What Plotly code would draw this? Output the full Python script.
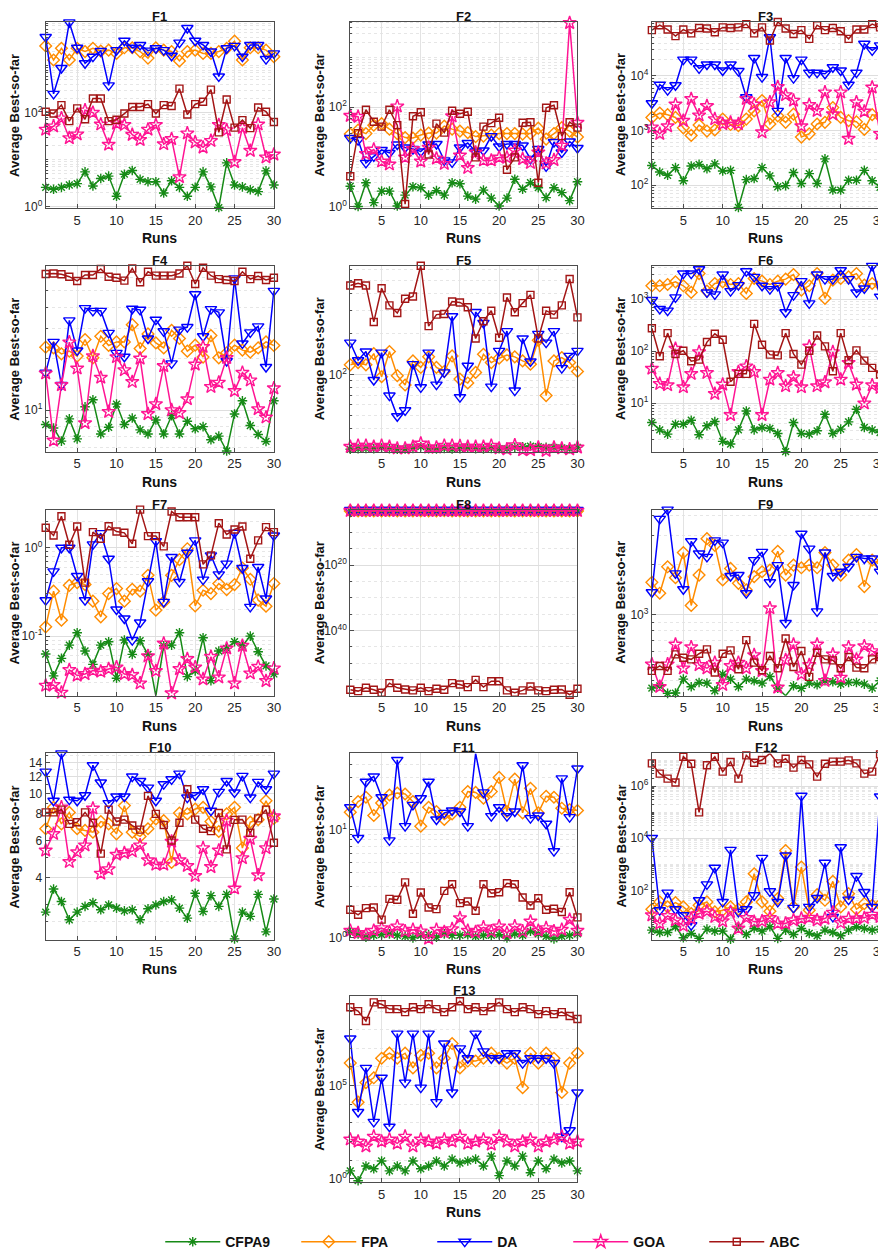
import numpy as np
import plotly.graph_objects as go

W, H = 886, 1257
runs = list(range(1, 31))
algos = ["CFPA9", "FPA", "DA", "GOA", "ABC"]

# values below are log10 of the average best-so-far
# (F8 is negative everywhere, so there the lists hold log10 of minus the value)
f1_cfpa9 = [0.41,0.37,0.41,0.46,0.49,0.74,0.44,0.60,0.65,0.22,0.69,0.77,0.58,0.53,0.53,0.29,0.55,0.41,0.22,0.41,0.74,0.42,-0.02,0.93,0.46,0.42,0.36,0.32,0.76,0.46]
f1_fpa = [3.42,3.12,3.37,3.12,3.37,3.30,3.37,3.31,3.33,3.26,3.38,3.38,3.30,3.16,3.38,3.33,3.30,3.10,3.30,3.33,3.26,3.26,3.30,3.37,3.52,3.12,3.38,3.38,3.33,3.19]
f1_da = [3.61,2.40,2.95,3.92,3.38,3.05,3.19,3.31,2.58,3.33,3.53,3.38,3.44,3.32,3.37,3.33,3.21,3.49,3.80,3.53,3.44,3.30,2.77,3.37,3.42,3.19,3.44,3.44,3.14,3.26]
f1_goa = [1.64,1.71,1.88,1.46,1.54,2.05,2.00,1.75,1.32,1.77,1.74,1.53,1.42,1.64,1.74,1.33,1.44,0.63,1.56,1.37,1.26,1.40,1.74,1.63,0.95,1.68,1.19,1.75,1.05,1.11]
f1_abc = [2.02,1.98,2.16,1.82,2.09,1.86,2.30,2.30,1.82,1.85,1.98,2.12,2.12,2.18,1.98,2.16,2.14,2.51,1.96,2.18,2.23,2.49,1.58,2.28,1.68,1.84,1.67,2.11,2.02,1.80]

f2_cfpa9 = [0.41,0.00,0.48,0.08,0.31,0.31,0.01,0.23,0.40,0.38,0.23,0.32,0.23,0.48,0.46,0.21,0.15,0.33,0.17,0.01,0.17,0.55,0.35,0.48,0.38,0.18,0.38,0.28,0.12,0.50]
f2_fpa = [1.46,1.54,1.47,1.64,1.67,1.56,1.47,1.39,1.38,1.44,1.48,1.48,1.62,1.56,1.52,1.49,1.41,1.42,1.44,1.47,1.47,1.47,1.46,1.47,1.58,1.36,1.47,1.59,1.52,1.40]
f2_da = [1.38,1.34,0.88,1.01,1.14,1.08,1.25,1.19,1.16,1.11,1.25,1.26,0.93,0.89,1.19,1.28,1.11,1.13,1.42,1.21,1.26,1.26,1.23,0.96,1.16,0.81,1.30,1.09,1.31,1.18]
f2_goa = [1.83,1.81,1.06,1.15,0.91,0.85,2.02,0.99,1.16,0.91,1.19,0.97,0.86,1.82,1.03,0.78,1.09,0.93,0.93,0.99,0.99,1.13,0.96,0.88,1.09,0.87,0.94,1.23,3.70,1.69]
f2_abc = [0.61,1.48,1.95,1.71,1.61,1.95,1.64,0.05,1.82,1.90,1.05,1.67,1.49,1.93,1.87,1.91,0.99,1.61,1.68,1.79,0.74,0.99,1.69,1.70,0.48,1.99,2.04,1.42,1.70,1.59]

f3_cfpa9 = [2.36,2.24,2.18,2.32,2.08,2.35,2.38,2.30,2.39,2.26,2.27,1.59,2.10,2.12,2.32,2.17,1.97,1.99,2.23,2.03,2.21,2.03,2.48,1.91,1.91,2.09,2.09,2.27,2.08,1.96]
f3_fpa = [3.24,3.32,3.29,3.24,3.05,2.91,3.10,2.99,3.01,3.21,3.11,3.09,3.21,3.36,3.55,3.12,3.27,3.15,3.30,2.88,2.94,3.12,3.15,3.42,3.24,3.18,3.16,3.02,3.29,3.26]
f3_da = [3.50,3.84,3.74,3.83,4.30,4.30,4.14,4.21,4.21,4.10,4.21,4.09,3.61,4.33,3.98,4.71,3.36,4.33,3.96,4.30,4.06,4.06,4.04,4.16,4.10,3.84,4.06,4.59,4.47,4.56]
f3_goa = [3.06,2.94,3.08,3.48,3.18,3.58,3.28,3.45,3.21,3.12,3.15,3.12,3.58,3.48,2.97,3.52,3.80,3.65,3.55,3.08,3.47,3.36,3.70,3.30,3.70,2.85,3.52,3.35,3.79,2.94]
f3_abc = [4.84,4.93,4.85,4.73,4.85,4.78,4.88,4.87,4.80,4.89,4.88,4.89,4.95,4.78,4.89,4.65,4.99,4.87,4.77,4.84,4.68,4.93,4.84,4.88,4.82,4.68,4.85,4.85,4.95,4.89]

f4_cfpa9 = [0.915,0.895,0.818,0.948,0.831,1.019,1.060,0.860,0.899,1.035,0.915,0.953,0.884,0.860,0.942,0.860,0.967,0.860,0.934,0.890,0.903,0.826,0.847,0.760,0.977,1.054,0.909,0.857,0.816,1.054]
f4_fpa = [1.368,1.364,1.329,1.345,1.316,1.413,1.306,1.432,1.378,1.399,1.399,1.500,1.360,1.446,1.393,1.364,1.467,1.419,1.345,1.380,1.310,1.436,1.306,1.335,1.380,1.351,1.339,1.364,1.399,1.378]
f4_da = [1.219,1.399,1.147,1.525,1.349,1.597,1.581,1.581,1.452,1.335,1.312,1.593,1.587,1.419,1.529,1.461,1.273,1.471,1.486,1.678,1.432,1.591,1.572,1.287,1.771,1.390,1.455,1.490,1.252,1.698]
f4_goa = [1.215,0.822,1.147,1.397,1.244,0.924,1.316,1.190,0.990,1.310,1.234,1.165,1.302,0.977,1.035,1.258,1.000,0.983,1.064,1.267,1.370,1.136,1.161,1.306,1.112,1.219,1.174,1.006,0.957,1.128]
f4_abc = [1.797,1.800,1.795,1.781,1.756,1.791,1.791,1.826,1.781,1.775,1.758,1.829,1.748,1.810,1.787,1.787,1.787,1.800,1.845,1.738,1.833,1.787,1.767,1.762,1.756,1.810,1.767,1.785,1.762,1.775]

f5_cfpa9 = [1.449,1.454,1.456,1.454,1.459,1.454,1.449,1.451,1.456,1.468,1.454,1.451,1.456,1.451,1.454,1.459,1.454,1.451,1.456,1.454,1.454,1.463,1.468,1.473,1.468,1.463,1.463,1.459,1.454,1.463]
f5_fpa = [2.073,2.090,2.073,2.156,1.985,2.171,1.993,1.924,2.102,2.054,2.132,2.054,2.024,2.139,1.968,1.939,2.017,2.151,2.090,2.122,2.146,2.132,2.102,2.078,2.254,1.846,2.102,2.127,2.090,2.024]
f5_da = [2.237,2.107,2.171,1.961,2.163,1.846,1.693,1.737,2.078,1.907,2.163,1.927,2.017,2.432,1.834,2.066,2.463,2.383,1.912,2.176,2.322,1.883,2.268,2.098,2.302,2.237,2.322,2.049,2.139,2.176]
f5_goa = [1.468,1.476,1.476,1.468,1.476,1.468,1.456,1.456,1.468,1.493,1.463,1.463,1.476,1.476,1.473,1.468,1.468,1.468,1.476,1.456,1.449,1.480,1.444,1.444,1.463,1.439,1.463,1.456,1.449,1.463]
f5_abc = [2.659,2.676,2.659,2.390,2.639,2.512,2.456,2.561,2.578,2.805,2.359,2.444,2.449,2.541,2.534,2.498,2.268,2.395,2.473,2.273,2.571,2.461,2.529,2.590,2.268,2.473,2.444,2.512,2.707,2.424]

f6_cfpa9 = [0.624,0.484,0.401,0.592,0.592,0.669,0.389,0.561,0.643,0.261,0.210,0.484,0.847,0.484,0.529,0.510,0.414,0.064,0.624,0.414,0.401,0.465,0.783,0.414,0.497,0.637,0.879,0.529,0.484,0.433]
f6_fpa = [3.255,3.255,3.280,3.331,3.255,3.127,3.490,3.153,3.299,3.331,3.280,3.299,3.108,3.395,3.344,3.280,3.344,3.382,3.471,3.172,3.255,3.490,3.013,3.363,3.395,3.427,3.490,3.268,3.299,3.268]
f6_da = [2.981,2.809,2.777,3.032,3.490,3.490,3.573,3.127,3.089,3.471,3.153,3.268,3.535,3.427,3.255,3.191,3.255,2.745,3.076,3.344,2.917,3.471,3.382,3.382,3.554,3.382,3.127,3.204,3.637,3.045]
f6_goa = [1.662,1.369,1.344,2.045,1.306,1.561,1.981,1.580,1.178,1.357,0.771,1.599,1.707,1.599,0.771,1.452,1.580,1.325,1.497,1.306,2.089,1.325,1.401,1.981,1.452,1.771,1.357,0.994,1.344,1.293]
f6_abc = [2.439,1.898,2.344,1.943,2.006,1.803,1.834,2.172,2.331,2.217,1.408,1.561,1.561,2.522,2.121,1.930,1.917,2.344,1.943,1.739,2.006,2.299,2.089,1.611,2.344,1.822,2.013,1.815,1.675,1.548]

f7_cfpa9 = [-1.203,-1.451,-1.252,-1.102,-0.962,-1.169,-1.320,-1.102,-1.064,-1.477,-1.045,-1.207,-1.053,-1.207,-1.677,-1.109,-1.102,-0.962,-1.459,-1.395,-1.019,-1.504,-1.169,-1.139,-1.064,-1.109,-1.000,-1.177,-1.338,-1.429]
f7_fpa = [-0.895,-0.492,-0.820,-0.425,-0.395,-0.417,-0.605,-0.782,-0.519,-0.462,-0.605,-0.470,-0.492,-0.312,-0.707,-0.613,-0.312,-0.135,-0.011,-0.658,-0.481,-0.519,-0.406,-0.474,-0.417,-0.229,-0.357,-0.594,-0.662,-0.406]
f7_da = [-0.594,-0.267,0.000,0.000,-0.320,-0.594,0.038,0.165,-0.124,-0.699,-0.801,-1.045,-0.846,-0.380,0.075,-0.613,-0.105,-0.387,-0.056,0.083,-0.361,-0.086,-0.301,-0.180,0.169,-0.229,-0.669,-0.218,-0.575,0.139]
f7_goa = [-1.560,-1.553,-1.639,-1.383,-1.447,-1.429,-1.391,-1.402,-1.372,-1.353,-1.429,-1.440,-1.534,-1.226,-1.395,-1.083,-1.647,-1.372,-1.259,-1.353,-1.489,-1.233,-1.466,-1.139,-1.534,-1.109,-1.421,-1.346,-1.508,-1.365]
f7_abc = [0.226,0.139,0.357,0.034,0.241,-0.395,0.177,0.102,0.244,0.184,0.169,0.045,0.432,0.132,0.132,0.015,0.410,0.346,0.346,0.346,-0.188,-0.086,0.278,0.150,0.207,0.241,-0.124,0.083,0.233,0.177]

f8_cfpa9 = [3.42,3.45,3.40,3.44,3.43,3.41,3.46,3.42,3.44,3.40,3.43,3.45,3.41,3.42,3.44,3.43,3.40,3.46,3.42,3.41,3.44,3.43,3.45,3.42,3.40,3.44,3.41,3.43,3.45,3.42]
f8_fpa = [3.35,3.32,3.36,3.33,3.35,3.31,3.34,3.36,3.32,3.35,3.33,3.34,3.31,3.36,3.33,3.35,3.32,3.34,3.36,3.33,3.31,3.35,3.34,3.32,3.36,3.33,3.35,3.34,3.32,3.35]
f8_da = [3.05,3.06,3.04,3.05,3.07,3.05,3.04,3.06,3.05,3.05,3.06,3.04,3.05,3.07,3.05,3.04,3.06,3.05,3.05,3.06,3.04,3.05,3.07,3.05,3.04,3.06,3.05,3.05,3.06,3.04]
f8_goa = [3.30,3.28,3.31,3.29,3.30,3.32,3.28,3.30,3.31,3.29,3.30,3.28,3.31,3.30,3.29,3.32,3.30,3.28,3.31,3.29,3.30,3.31,3.28,3.30,3.29,3.31,3.30,3.28,3.30,3.29]
f8_abc = [58.18,58.59,57.58,58.18,59.09,56.16,57.58,58.08,58.38,57.58,58.59,57.88,58.18,56.16,56.57,57.37,55.15,57.37,55.56,55.56,58.38,59.09,58.38,57.17,58.38,58.59,58.18,58.08,59.70,57.88]

f9_cfpa9 = [2.556,2.570,2.524,2.526,2.610,2.564,2.590,2.586,2.540,2.640,2.610,2.564,2.610,2.600,2.586,2.626,2.556,2.510,2.570,2.554,2.586,2.576,2.600,2.594,2.580,2.590,2.590,2.580,2.556,2.600]
f9_fpa = [3.196,3.130,3.290,3.224,3.376,3.056,3.240,3.460,3.420,3.210,3.280,3.190,3.150,3.230,3.260,3.270,3.384,3.240,3.300,3.284,3.300,3.284,3.376,3.300,3.240,3.330,3.364,3.170,3.330,3.304]
f9_da = [3.136,3.580,3.636,3.250,3.154,3.444,3.370,3.350,3.450,3.436,3.234,3.240,3.130,3.330,3.380,3.196,3.300,2.950,3.180,3.490,3.400,3.020,3.376,3.234,3.260,3.290,3.350,3.340,3.340,3.260]
f9_goa = [2.700,2.564,2.700,2.820,2.676,2.804,2.696,2.676,2.710,2.576,2.690,2.710,2.676,2.756,2.660,3.040,2.560,2.726,2.820,2.640,2.696,2.820,2.600,2.760,2.620,2.804,2.730,2.810,2.780,2.760]
f9_abc = [2.660,2.690,2.660,2.760,2.740,2.730,2.764,2.790,2.650,2.764,2.784,2.670,2.846,2.710,2.664,2.750,2.676,2.856,2.684,2.780,2.624,2.770,2.730,2.724,2.676,2.744,2.680,2.676,2.730,2.744]

f10_cfpa9 = [0.440,0.549,0.490,0.404,0.440,0.467,0.485,0.451,0.474,0.459,0.446,0.451,0.404,0.456,0.474,0.490,0.498,0.459,0.412,0.529,0.443,0.518,0.467,0.524,0.314,0.440,0.420,0.524,0.347,0.502]
f10_fpa = [0.833,0.934,0.856,0.910,0.833,0.825,0.817,0.867,0.856,0.809,0.942,0.817,0.797,0.833,0.879,0.871,0.674,0.907,0.903,0.926,0.934,0.867,0.820,0.903,0.934,0.742,0.864,0.876,0.965,0.882]
f10_da = [1.102,0.965,1.188,0.970,0.965,0.991,1.132,1.051,0.954,0.985,0.985,1.079,1.058,1.027,0.965,1.043,1.066,1.093,0.980,0.991,1.019,0.918,1.007,1.058,1.004,1.082,0.980,1.054,1.019,1.093]
f10_goa = [0.731,0.809,0.934,0.677,0.723,0.755,0.929,0.622,0.643,0.711,0.719,0.727,0.755,0.685,0.664,0.664,0.773,0.685,0.658,0.611,0.742,0.653,0.731,0.871,0.552,0.695,0.786,0.614,0.742,0.892]
f10_abc = [0.910,0.910,0.923,0.856,0.864,0.910,0.861,0.716,0.923,0.867,0.876,0.848,0.829,0.988,0.903,0.851,0.778,0.861,1.019,0.876,0.833,0.822,0.907,0.736,0.875,0.876,0.814,0.882,0.923,0.767]

f11_cfpa9 = [0.052,0.037,0.006,0.024,0.030,0.037,0.024,0.015,0.000,0.024,0.030,0.006,0.037,0.024,0.024,0.030,0.015,0.024,0.024,0.030,0.000,0.037,0.024,0.061,0.037,0.015,-0.009,0.015,0.024,0.037]
f11_fpa = [1.159,1.256,1.296,1.128,1.244,1.317,1.335,1.326,1.256,1.030,1.204,1.165,1.091,1.143,1.204,1.348,1.341,1.287,1.348,1.479,1.165,1.463,1.152,1.378,1.152,1.305,1.296,1.195,1.183,1.174]
f11_da = [1.204,0.921,1.439,1.488,1.296,0.899,1.640,1.030,1.226,1.287,1.439,1.091,1.152,1.174,1.165,1.030,1.701,1.341,1.122,1.204,1.122,1.165,1.591,1.104,1.128,1.052,0.799,1.470,1.113,1.561]
f11_goa = [0.067,0.046,0.030,0.067,0.091,0.055,0.107,0.061,0.076,0.061,-0.006,0.076,0.055,0.082,0.183,0.067,0.055,0.098,0.061,0.107,0.046,0.107,0.061,0.152,0.067,0.091,0.061,0.076,0.168,0.067]
f11_abc = [0.259,0.213,0.274,0.280,0.168,0.360,0.351,0.512,0.223,0.418,0.280,0.265,0.433,0.494,0.320,0.335,0.250,0.494,0.412,0.421,0.503,0.494,0.372,0.299,0.366,0.259,0.268,0.238,0.421,0.189]

f12_cfpa9 = [0.471,0.382,0.382,0.599,0.178,0.344,0.153,0.510,0.433,0.433,0.127,0.599,0.306,0.535,0.433,0.599,0.153,0.471,0.306,0.535,0.344,0.255,0.471,0.382,0.255,0.471,0.599,0.535,0.471,0.510]
f12_fpa = [1.274,1.554,1.363,1.529,1.363,1.108,1.427,1.554,1.172,1.236,1.363,1.274,1.554,2.637,1.554,1.197,1.682,3.529,1.363,2.892,1.236,1.834,1.618,2.344,1.363,1.873,1.274,1.491,1.427,1.452]
f12_da = [4.013,1.236,1.911,1.274,1.045,0.662,1.618,2.229,2.866,1.554,3.554,1.172,1.274,1.809,3.248,1.962,1.554,3.338,1.325,5.631,1.363,1.707,3.057,0.981,3.656,1.643,2.548,1.936,1.363,5.605]
f12_goa = [1.045,0.726,1.019,0.854,0.637,0.917,1.108,1.197,0.981,0.815,1.172,0.535,0.943,0.790,0.815,0.943,0.726,0.726,0.854,0.917,0.955,0.854,0.917,1.146,0.752,0.917,0.917,0.943,1.070,0.981]
f12_abc = [6.879,6.484,6.293,6.140,7.134,6.866,4.994,6.803,7.134,6.561,6.930,6.293,7.185,6.904,7.006,7.261,6.879,7.057,6.713,7.006,6.841,6.369,6.866,6.943,6.943,6.994,6.879,6.484,6.561,7.223]

f13_cfpa9 = [0.42,-0.11,0.68,0.53,0.95,0.42,0.68,0.42,0.95,0.53,0.68,0.95,0.68,1.05,0.84,0.95,1.05,0.68,1.21,0.16,0.95,0.68,1.21,0.32,0.95,0.53,1.05,0.84,0.95,0.42]
f13_fpa = [6.21,4.11,5.16,5.42,6.47,6.74,6.47,6.74,5.95,6.63,6.74,5.95,6.47,7.26,5.95,6.32,6.32,6.47,6.74,6.47,6.21,6.47,4.89,6.74,6.21,6.74,6.47,4.63,6.21,6.74]
f13_da = [7.53,3.58,5.95,3.05,5.42,2.79,7.79,5.16,7.79,4.89,7.79,4.11,7.26,4.63,7.00,6.47,7.79,6.84,6.47,6.47,6.74,6.74,6.21,6.47,6.47,6.47,6.21,2.26,2.60,4.63]
f13_goa = [2.11,2.00,1.74,2.26,2.00,2.11,1.89,2.26,1.74,2.11,2.00,1.89,2.11,2.00,2.26,1.89,2.00,2.11,1.84,2.26,2.00,1.74,2.00,2.11,1.74,2.00,2.11,2.26,1.89,2.00]
f13_abc = [9.21,9.00,8.47,9.47,9.37,9.11,9.11,8.95,9.21,9.11,9.37,9.11,8.95,9.21,9.53,9.11,9.21,9.00,9.21,9.47,9.11,8.95,9.21,9.11,8.84,9.00,8.84,8.95,8.74,8.58]

series = {
    "F1": [f1_cfpa9, f1_fpa, f1_da, f1_goa, f1_abc],
    "F2": [f2_cfpa9, f2_fpa, f2_da, f2_goa, f2_abc],
    "F3": [f3_cfpa9, f3_fpa, f3_da, f3_goa, f3_abc],
    "F4": [f4_cfpa9, f4_fpa, f4_da, f4_goa, f4_abc],
    "F5": [f5_cfpa9, f5_fpa, f5_da, f5_goa, f5_abc],
    "F6": [f6_cfpa9, f6_fpa, f6_da, f6_goa, f6_abc],
    "F7": [f7_cfpa9, f7_fpa, f7_da, f7_goa, f7_abc],
    "F8": [f8_cfpa9, f8_fpa, f8_da, f8_goa, f8_abc],
    "F9": [f9_cfpa9, f9_fpa, f9_da, f9_goa, f9_abc],
    "F10": [f10_cfpa9, f10_fpa, f10_da, f10_goa, f10_abc],
    "F11": [f11_cfpa9, f11_fpa, f11_da, f11_goa, f11_abc],
    "F12": [f12_cfpa9, f12_fpa, f12_da, f12_goa, f12_abc],
    "F13": [f13_cfpa9, f13_fpa, f13_da, f13_goa, f13_abc],
}

# panel -> (row, col, y range in log10, labelled ticks, minor grid kind)
panels = {
    "F1": (0, 0, [-0.03, 3.93], [0, 2], "digits"),
    "F2": (0, 1, [-0.03, 3.72], [0, 2], "digits"),
    "F3": (0, 2, [1.58, 4.99], [2, 3, 4], "digits"),
    "F4": (1, 0, [0.755, 1.845], [1], "digits"),
    "F5": (1, 1, [1.43, 2.805], [2], "digits"),
    "F6": (1, 2, [0.06, 3.64], [1, 2, 3], "digits"),
    "F7": (2, 0, [-1.675, 0.432], [-1, 0], "digits"),
    "F8": (2, 1, [60.0, 2.95], [20, 40], "five"),
    "F9": (2, 2, [2.51, 3.636], [3], "digits"),
    "F10": (3, 0, [0.311, 1.188], None, "plain"),
    "F11": (3, 1, [-0.015, 1.70], [0, 1], "digits"),
    "F12": (3, 2, [0.11, 7.26], [2, 4, 6], "digits"),
    "F13": (4, 1, [-0.2, 9.8], [0, 5], "decades"),
}

colors = ["#168a16", "#ff8c00", "#0000ff", "#ff1493", "#a31515"]
symbols = ["asterisk-open", "diamond-open", "triangle-down-open", "star-open", "square-open"]
sizes = [8, 9, 10, 10, 7]

col_x = [(38, 268), (345, 574), (649, 879)]
row_top = [14, 259, 504, 749, 993]
ph = 187

font = "Liberation Sans, Arial, Helvetica, sans-serif"
axcol = "#4d4d4d"

fig = go.Figure()
layout = {}
annotations = []

for i, name in enumerate(panels):
    row, col, yr, majors, kind = panels[name]
    ax = "" if i == 0 else str(i + 1)
    x0, x1 = col_x[col]
    top = row_top[row]
    bot = top + ph

    for j, a in enumerate(algos):
        vals = np.power(10.0, series[name][j])
        fig.add_trace(go.Scatter(
            x=runs, y=vals, mode="lines+markers", name=a, legendgroup=a,
            showlegend=(i == 0), xaxis="x" + ax, yaxis="y" + ax, cliponaxis=False,
            line=dict(color=colors[j], width=1.5),
            marker=dict(symbol=symbols[j], size=sizes[j], color=colors[j],
                        line=dict(color=colors[j], width=1.4)),
        ))

    lo, hi = min(yr), max(yr)
    if kind == "plain":
        tickvals = [4, 6, 8, 10, 12, 14]
        ticktext = [str(v) for v in tickvals]
        minor_vals = [2.5, 3, 5, 7, 9, 11, 13, 15]
    else:
        tickvals = [10.0 ** k for k in majors]
        pre = "-" if name == "F8" else ""
        ticktext = [pre + "10<sup>%d</sup>" % k for k in majors]
        minor_vals = []
        if kind == "digits":
            for k in range(int(np.floor(lo)) - 1, int(np.ceil(hi)) + 1):
                for d in range(1, 10):
                    v = d * 10.0 ** k
                    if lo <= np.log10(v) <= hi and not (d == 1 and k in majors):
                        minor_vals.append(v)
        elif kind == "decades":
            minor_vals = [10.0 ** k for k in range(int(lo), int(hi) + 1) if k not in majors]
        else:
            minor_vals = [10.0 ** k for k in range(5, 60, 5) if k not in majors]

    layout["xaxis" + ax] = dict(
        domain=[x0 / W, x1 / W], anchor="y" + ax, range=[1, 30],
        tickvals=[5, 10, 15, 20, 25, 30], ticks="inside", ticklen=4, tickcolor=axcol,
        showline=True, mirror=True, linecolor=axcol, linewidth=1,
        showgrid=True, gridcolor="#e3e3e3", zeroline=False,
        tickfont=dict(size=13, color="#262626", family=font),
    )
    layout["yaxis" + ax] = dict(
        domain=[1 - bot / H, 1 - top / H], anchor="x" + ax, type="log", range=yr,
        tickvals=tickvals, ticktext=ticktext, ticks="inside", ticklen=4, tickcolor=axcol,
        showline=True, mirror=True, linecolor=axcol, linewidth=1,
        showgrid=True, gridcolor="#dedede", zeroline=False,
        tickfont=dict(size=12, color="#262626", family=font),
        minor=dict(tickvals=minor_vals, showgrid=True, gridcolor="#e6e6e6",
                   griddash="dot", gridwidth=1, ticks="inside", ticklen=2, tickcolor=axcol),
    )

    cx = (x0 + x1) / 2 / W
    annotations.append(dict(text="<b>%s</b>" % name, x=cx, y=1 - (top - 5.5) / H,
                            xref="paper", yref="paper", showarrow=False, borderpad=0,
                            xanchor="center", yanchor="middle",
                            font=dict(size=13, color="#111", family=font)))
    annotations.append(dict(text="<b>Runs</b>", x=cx, y=1 - (bot + 30) / H,
                            xref="paper", yref="paper", showarrow=False,
                            xanchor="center", yanchor="middle",
                            font=dict(size=14, color="#111", family=font)))
    annotations.append(dict(text="<b>Average Best-so-far</b>", x=(x0 - 31) / W,
                            y=1 - (top + ph / 2) / H, xref="paper", yref="paper",
                            showarrow=False, textangle=-90,
                            xanchor="center", yanchor="middle",
                            font=dict(size=13, color="#111", family=font)))

fig.update_layout(
    width=W, height=H,
    margin=dict(l=0, r=0, t=0, b=0),
    paper_bgcolor="white", plot_bgcolor="white",
    annotations=annotations,
    legend=dict(orientation="h", x=0.56, xanchor="center", y=1 - 1240 / H, yanchor="middle",
                font=dict(size=14, color="#111", family=font, weight="bold"),
                entrywidth=66, itemwidth=55),
    **layout,
)

fig.write_html("out.html")
